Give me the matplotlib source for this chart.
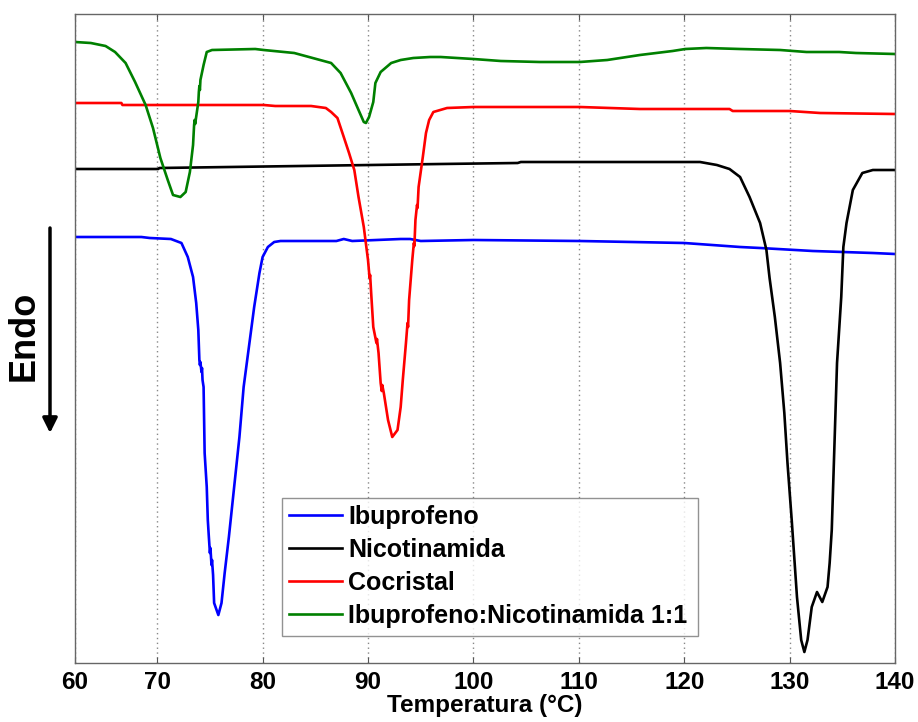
import matplotlib
matplotlib.use("Agg")
import matplotlib.pyplot as plt

plt.rcParams['font.family'] = ['Liberation Sans', 'DejaVu Sans']

# DSC thermograms: temperature (°C) vs heat flow (mW, arbitrary offsets)
temp_ibu = [62.2, 68.5, 69.3, 71.3, 72.3, 72.9, 73.4, 73.7, 73.9, 74.0, 74.05, 74.1,
            74.2, 74.25, 74.3, 74.4, 74.45, 74.5, 74.7, 74.8, 74.9, 75.0, 75.05, 75.15,
            75.2, 75.3, 75.4, 75.8, 76.1, 76.4, 76.8, 77.3, 77.8, 78.2, 78.7, 79.2,
            79.7, 80.0, 80.5, 81.1, 81.7, 82.7, 87.0, 87.7, 88.5, 93.1, 94.0, 95.0,
            100.0, 110.1, 120.0, 125.3, 127.2, 132.2, 137.9, 140.0]
flow_ibu = [4.26, 4.26, 4.25, 4.24, 4.20, 4.06, 3.86, 3.60, 3.33, 3.03, 2.98, 3.01,
            2.91, 2.95, 2.83, 2.76, 2.43, 2.10, 1.76, 1.43, 1.26, 1.10, 1.15, 0.98,
            1.03, 0.88, 0.60, 0.48, 0.60, 0.90, 1.26, 1.76, 2.26, 2.76, 3.16, 3.56,
            3.90, 4.06, 4.16, 4.21, 4.22, 4.22, 4.22, 4.24, 4.22, 4.24, 4.24, 4.22,
            4.23, 4.22, 4.20, 4.16, 4.15, 4.12, 4.10, 4.09]

temp_nic = [62.2, 70.1, 70.2, 96.9, 104.2, 104.5, 121.5, 123.1, 124.3, 125.3, 126.2,
            127.2, 127.8, 128.1, 128.6, 129.1, 129.5, 129.8, 130.2, 130.7, 131.1, 131.4,
            131.7, 132.1, 132.6, 133.1, 133.6, 133.8, 134.0, 134.3, 134.5, 134.9, 135.1,
            135.4, 136.0, 136.9, 137.9, 140.0]
flow_nic = [4.94, 4.94, 4.95, 4.99, 5.00, 5.01, 5.01, 4.98, 4.94, 4.86, 4.66,
            4.40, 4.13, 3.85, 3.46, 3.00, 2.50, 2.00, 1.43, 0.66, 0.23, 0.11,
            0.23, 0.56, 0.71, 0.61, 0.76, 1.00, 1.33, 2.33, 3.00, 3.66, 4.16,
            4.40, 4.73, 4.90, 4.93, 4.93]

temp_coc = [62.2, 66.6, 66.7, 80.1, 81.2, 84.6, 86.0, 86.5, 87.1, 87.7, 88.2, 88.7,
            89.1, 89.6, 90.0, 90.15, 90.2, 90.3, 90.5, 90.8, 90.85, 91.0, 91.2, 91.3,
            91.35, 91.5, 91.9, 92.3, 92.8, 93.1, 93.3, 93.6, 93.75, 93.8, 93.9, 94.2,
            94.35, 94.4, 94.5, 94.65, 94.7, 94.8, 95.2, 95.5, 95.8, 96.2, 97.5, 100.0,
            110.1, 115.8, 124.3, 124.6, 130.0, 132.9, 140.0]
flow_coc = [5.60, 5.60, 5.58, 5.58, 5.57, 5.57, 5.55, 5.51, 5.45, 5.26, 5.10, 4.93,
            4.66, 4.36, 4.03, 3.85, 3.88, 3.70, 3.36, 3.20, 3.24, 3.10, 2.80, 2.72,
            2.78, 2.70, 2.43, 2.26, 2.33, 2.56, 2.83, 3.20, 3.40, 3.36, 3.63, 4.03,
            4.20, 4.17, 4.43, 4.58, 4.55, 4.76, 5.06, 5.30, 5.43, 5.51, 5.55, 5.56,
            5.56, 5.54, 5.54, 5.52, 5.52, 5.50, 5.49]

temp_mix = [62.2, 63.7, 65.1, 66.0, 67.0, 67.9, 68.9, 69.6, 70.3, 71.0, 71.5, 72.2,
            72.7, 73.1, 73.4, 73.5, 73.55, 73.6, 73.9, 73.95, 74.0, 74.05, 74.1, 74.4,
            74.7, 75.2, 79.3, 80.1, 83.0, 86.5, 87.4, 88.4, 89.1, 89.6, 89.8, 90.1,
            90.5, 90.7, 91.2, 92.2, 93.1, 94.3, 95.9, 96.9, 100.0, 102.6, 106.3, 110.1,
            112.7, 115.8, 118.9, 120.1, 122.1, 125.3, 129.1, 131.6, 134.7, 136.3, 140.0]
flow_mix = [6.21, 6.20, 6.17, 6.11, 6.00, 5.81, 5.58, 5.35, 5.05, 4.83, 4.68, 4.66,
            4.71, 4.91, 5.18, 5.38, 5.43, 5.39, 5.61, 5.71, 5.77, 5.73, 5.83, 5.98,
            6.11, 6.13, 6.14, 6.13, 6.10, 6.00, 5.90, 5.70, 5.53, 5.41, 5.40, 5.46,
            5.61, 5.80, 5.91, 6.00, 6.03, 6.05, 6.06, 6.06, 6.04, 6.02, 6.01, 6.01,
            6.03, 6.08, 6.12, 6.14, 6.15, 6.14, 6.13, 6.11, 6.11, 6.10, 6.09]

series_names = ['Ibuprofeno', 'Nicotinamida', 'Cocristal', 'Ibuprofeno:Nicotinamida 1:1']
series_colors = ['#0000ff', '#000000', '#ff0000', '#008000']

tick_values = [62.2, 70, 80, 90, 100, 110, 120, 130, 140]
tick_labels = ['60', '70', '80', '90', '100', '110', '120', '130', '140']

W, H = 918, 722
fig = plt.figure(figsize=(W / 100, H / 100), dpi=100)
ax = fig.add_axes([75 / W, (H - 663) / H, 820 / W, 649 / H])

curves = [(temp_ibu, flow_ibu), (temp_nic, flow_nic), (temp_coc, flow_coc), (temp_mix, flow_mix)]
for (t, q), name, col in zip(curves, series_names, series_colors):
    ax.plot(t, q, color=col, lw=1.9, label=name, solid_joinstyle='round')

ax.set_xlim(62.2, 140)
ax.set_ylim(0, 6.49)
ax.set_xticks(tick_values)
ax.set_xticklabels(tick_labels, fontsize=17.5, fontweight='bold')
ax.set_yticks([])
ax.tick_params(axis='x', direction='in', length=4, top=True, pad=6, color='#555555')
ax.xaxis.grid(True, linestyle=(0, (1, 2.5)), color='#888888', lw=1)
for s in ax.spines.values():
    s.set_color('#666666')
    s.set_linewidth(1.0)

ax.set_xlabel('Temperatura (°C)', fontsize=17.5, fontweight='bold', labelpad=0)

leg = ax.legend(loc='lower left', bbox_to_anchor=(0.252, 0.042, 0.508, 0.214),
                mode='expand', prop={'size': 18, 'weight': 'bold'},
                frameon=True, fancybox=False, edgecolor='#777777',
                handlelength=2.1, handletextpad=0.25, labelspacing=0.36,
                borderpad=0.3, borderaxespad=0)
leg.get_frame().set_linewidth(1.0)

# Endothermic direction indicator
fig.text(24 / W, (H - 336) / H, 'Endo', rotation=90, fontsize=26, fontweight='bold',
         ha='center', va='center')
ax.annotate('', xy=(50, H - 433), xytext=(50, H - 228), xycoords='figure pixels',
            textcoords='figure pixels',
            arrowprops=dict(arrowstyle='-|>', lw=2.5, color='black', mutation_scale=22,
                            shrinkA=0, shrinkB=0))

fig.savefig('out.png', dpi=100)
